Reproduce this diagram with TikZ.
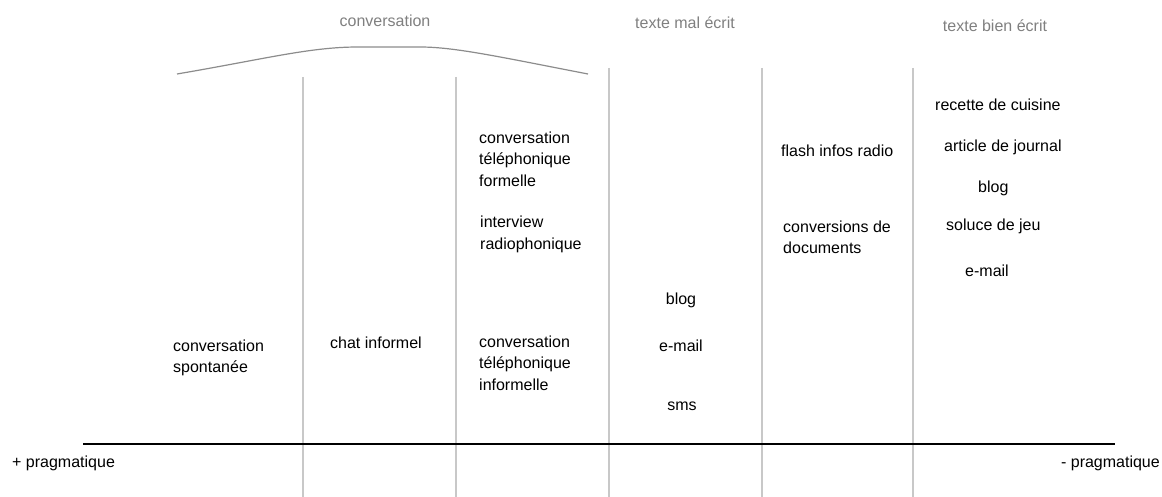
\documentclass[tikz,border=0pt]{standalone}
\usepackage{fontspec}
\setmainfont{Liberation Sans}
\definecolor{sepgray}{HTML}{C8C8C8}
\definecolor{arcgray}{HTML}{8C8C8C}
\definecolor{headgray}{HTML}{808080}
\tikzset{
  lbl/.style={inner sep=0pt, align=left, anchor=west, font=\fontsize{16}{21.5}\selectfont},
  lblc/.style={inner sep=0pt, align=center, anchor=center, font=\fontsize{16}{21.5}\selectfont},
  head/.style={inner sep=0pt, anchor=center, text=headgray, font=\fontsize{16}{21.5}\selectfont},
  sep/.style={draw=sepgray, line width=1.3pt},
  axis/.style={draw=black, line width=1.3pt},
  arcline/.style={draw=arcgray, line width=1.2pt}
}
\begin{document}
\begin{tikzpicture}[x=1pt,y=-1pt]
\useasboundingbox[fill=white] (0,0) rectangle (1162,497);
% vertical separators
\foreach \xx/\yy in {303/77,456/77,609/68,762/68,913/68}{
  \draw[sep] (\xx,\yy) -- (\xx,497);
}
% axis
\coordinate (axL) at (83,444);
\coordinate (axR) at (1115,444);
\draw[axis] (axL) -- (axR);
% arc over conversation
\coordinate (arcL) at (177,74);
\coordinate (arcR) at (588,74);
\draw[arcline] (arcL) .. controls (265,59) and (310,47) .. (358,47) -- (420,47) .. controls (455,47) and (500,57) .. (arcR);
% headers
\node[head] (h1) at (385,21) {conversation};
\node[head] (h2) at (685,23) {texte mal écrit};
\node[head] (h3) at (995,26) {texte bien écrit};
% axis labels
\node[lbl] (pp) at (12,463) {+ pragmatique};
\node[lbl, anchor=east] (mp) at (1160,463) {- pragmatique};
% column 1
\node[lbl] (cs) at (173,358) {conversation\\spontanée};
% column 2
\node[lbl] (ci) at (330,343) {chat informel};
% column 3
\node[lbl] (ctf) at (479,159) {conversation\\téléphonique\\formelle};
\node[lbl] (ir) at (480,234.5) {interview\\radiophonique};
\node[lbl] (cti) at (479,363) {conversation\\téléphonique\\informelle};
% column 4
\node[lblc] (b1) at (681,300) {blog};
\node[lblc] (e1) at (681,346) {e-mail};
\node[lblc] (s1) at (682,406) {sms};
% column 5
\node[lbl] (fr) at (781,151) {flash infos radio};
\node[lbl] (cd) at (783,237.5) {conversions de\\documents};
% column 6
\node[lbl] (rc) at (935,105) {recette de cuisine};
\node[lbl] (aj) at (944,147) {article de journal};
\node[lbl] (b2) at (978,188) {blog};
\node[lbl] (sj) at (946,226) {soluce de jeu};
\node[lbl] (e2) at (965,271) {e-mail};
\end{tikzpicture}
\end{document}
